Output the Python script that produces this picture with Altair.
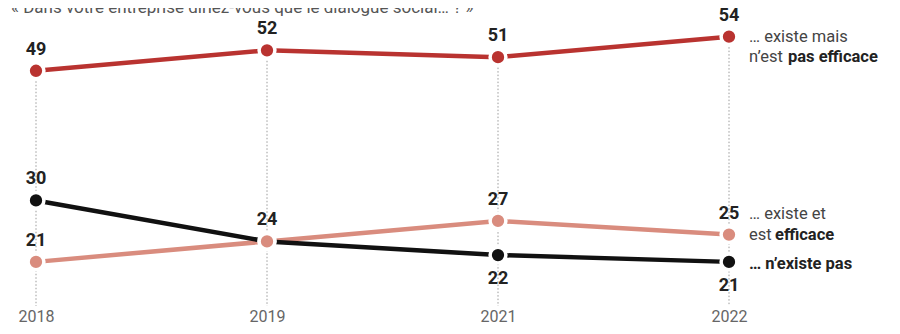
import altair as alt
import pandas as pd

years = ["2018", "2019", "2021", "2022"]
pas_efficace = [49, 52, 51, 54]
efficace = [21, 24, 27, 25]
nexiste_pas = [30, 24, 22, 21]

series_names = ["pas_efficace", "efficace", "nexiste_pas"]
series_values = [pas_efficace, efficace, nexiste_pas]
series_colors = ["#b93330", "#d98c7e", "#111111"]
# where the value label sits relative to each point
label_pos = [
    ["above", "above", "above", "above"],
    ["above", "above", "above", "above"],
    ["above", "none", "below", "below"],
]

title_text = "« Dans votre entreprise diriez-vous que le dialogue social… ? »"

rows = []
for name, vals, pos in zip(series_names, series_values, label_pos):
    for y, v, p in zip(years, vals, pos):
        rows.append({"year": y, "value": v, "series": name, "pos": p})
df = pd.DataFrame(rows)

W, H = 693, 273
PAD = {"left": 28, "top": 15, "right": 163, "bottom": 30}
FONT = "Roboto"

x = alt.X("year:O", scale=alt.Scale(type="point", padding=0, domain=years),
          axis=alt.Axis(title=None, domain=False, ticks=False, labelAngle=0,
                        labelFont=FONT, labelFontSize=16, labelColor="#666666",
                        labelPadding=12, grid=False))
yscale = alt.Scale(domain=[16, 56], zero=False, nice=False)
y = alt.Y("value:Q", scale=yscale, axis=None)
color = alt.Color("series:N", scale=alt.Scale(domain=series_names, range=series_colors), legend=None)

base = alt.Chart(df)

rules = base.mark_rule(color="#9a9a9a", strokeDash=[1.5, 2], strokeWidth=1, clip=False).encode(
    x=x, y=alt.Y("max(value):Q", scale=yscale, axis=None), y2=alt.value(H + 10)
)

lines = base.mark_line(strokeWidth=4.5).encode(x=x, y=y, color=color, detail="series:N",
                                                 order=alt.Order("year:O"))

points = base.mark_point(filled=True, size=250, stroke="white", strokeWidth=3.5, opacity=1,
                         strokeOpacity=1).encode(
    x=x, y=y, fill=alt.Fill("series:N", scale=alt.Scale(domain=series_names, range=series_colors), legend=None),
    order=alt.Order("series:N", sort="descending")
)

lab_above = base.transform_filter(alt.datum.pos == "above").mark_text(
    font=FONT, fontSize=18, fontWeight="bold", color="#222222", dy=-21, baseline="middle"
).encode(x=x, y=y, text="value:Q")
lab_below = base.transform_filter(alt.datum.pos == "below").mark_text(
    font=FONT, fontSize=18, fontWeight="bold", color="#222222", dy=24, baseline="middle"
).encode(x=x, y=y, text="value:Q")

last = years[-1]
leg_rows = [
    {"series": "pas_efficace", "value": pas_efficace[-1], "txt": "… existe mais", "dx": 20, "dy": 0, "w": "normal"},
    {"series": "pas_efficace", "value": pas_efficace[-1], "txt": "n’est", "dx": 20, "dy": 20, "w": "normal"},
    {"series": "pas_efficace", "value": pas_efficace[-1], "txt": "pas efficace", "dx": 59, "dy": 20, "w": "bold"},
    {"series": "efficace", "value": efficace[-1], "txt": "… existe et", "dx": 20, "dy": -21, "w": "normal"},
    {"series": "efficace", "value": efficace[-1], "txt": "est", "dx": 20, "dy": 0, "w": "normal"},
    {"series": "efficace", "value": efficace[-1], "txt": "efficace", "dx": 46, "dy": 0, "w": "bold"},
    {"series": "nexiste_pas", "value": nexiste_pas[-1], "txt": "… n’existe pas", "dx": 20, "dy": 2, "w": "bold"},
]
leg_layers = []
for r in leg_rows:
    leg_layers.append(
        alt.Chart(pd.DataFrame([{"year": last, "value": r["value"], "txt": r["txt"]}])).mark_text(
            font=FONT, fontSize=16.5, fontWeight=r["w"], align="left", baseline="middle",
            dx=r["dx"], dy=r["dy"], color="#222222" if r["w"] == "bold" else "#444444", clip=False
        ).encode(x=x, y=y, text="txt:N")
    )

title = alt.Chart(pd.DataFrame([{"t": title_text}])).mark_text(
    font=FONT, fontSize=17, color="#555555", align="left", baseline="alphabetic", clip=False
).encode(x=alt.value(-25), y=alt.value(-10), text="t:N")

chart = alt.layer(rules, lines, points, lab_above, lab_below, *leg_layers, title).properties(
    width=W, height=H, padding=PAD, autosize=alt.AutoSizeParams(type="none"),
    background="white"
).configure_view(stroke=None)

chart.save("out.html", embed_options={"renderer": "svg", "actions": False})
